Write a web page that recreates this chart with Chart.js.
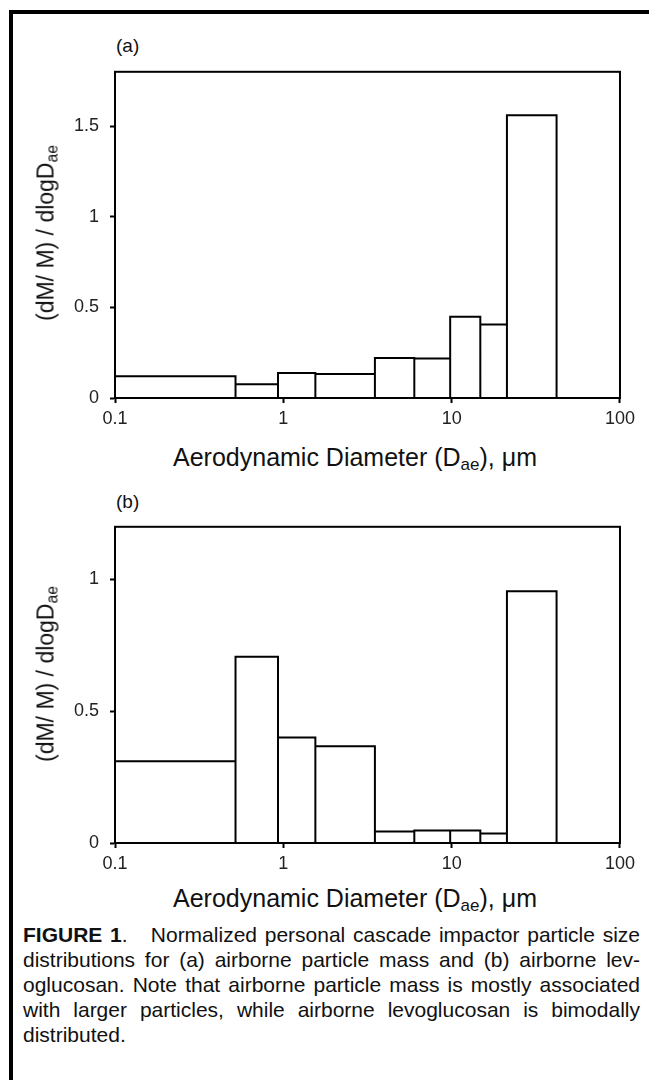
<!DOCTYPE html>
<html>
<head>
<meta charset="utf-8">
<script src="https://cdn.jsdelivr.net/npm/chart.js@4.4.0/dist/chart.umd.min.js"></script>
<style>
  body { margin: 0; background: #fff; width: 649px; height: 1080px; overflow: hidden; position: relative;
         font-family: 'Liberation Sans', Arial, sans-serif; color: #111; }
  #frame { position: absolute; left: 9px; top: 10px; width: 700px; height: 1200px;
           border-left: 4px solid #000; border-top: 4px solid #000; }
  .box { position: absolute; left: 60px; width: 580px; }
  .panel { position: absolute; font-size: 19px; }
  .xtitle { position: absolute; left: 115px; width: 480px; text-align: center; font-size: 25px; white-space: nowrap; }
  .ytitle { position: absolute; font-size: 23px; white-space: nowrap; transform: translate(-50%, -50%) rotate(-90deg); }
  sub { font-size: 68%; vertical-align: -0.25em; line-height: 0; }
  #caption { position: absolute; left: 23px; width: 617px; top: 922px; font-size: 21px; line-height: 25px; }
  #caption span { display: block; white-space: nowrap; text-align: justify; text-align-last: justify; }
  #caption span.last { text-align-last: left; }
</style>
</head>
<body>
<div id="frame"></div>

<div class="panel" style="left:116px; top:35px;">(a)</div>
<div class="box" style="top:50px; height:380px;"><canvas id="chartA"></canvas></div>
<div class="ytitle" style="left:46px; top:233px;">(dM/ M) / dlogD<sub>ae</sub></div>
<div class="xtitle" style="top:443px;">Aerodynamic Diameter (D<sub>ae</sub>), &mu;m</div>

<div class="panel" style="left:116px; top:491px;">(b)</div>
<div class="box" style="top:505px; height:370px;"><canvas id="chartB"></canvas></div>
<div class="ytitle" style="left:46px; top:674px;">(dM/ M) / dlogD<sub>ae</sub></div>
<div class="xtitle" style="top:884px;">Aerodynamic Diameter (D<sub>ae</sub>), &mu;m</div>

<div id="caption">
  <span><b>FIGURE 1</b>.&nbsp;&nbsp; Normalized personal cascade impactor particle size</span>
  <span>distributions for (a) airborne particle mass and (b) airborne lev-</span>
  <span>oglucosan. Note that airborne particle mass is mostly associated</span>
  <span>with larger particles, while airborne levoglucosan is bimodally</span>
  <span class="last">distributed.</span>
</div>

<script>
  // impactor stage boundaries (um), one more than the number of stages
  var stageEdges = [0.1, 0.52, 0.93, 1.55, 3.5, 6.0, 9.8, 14.8, 21.3, 42];
  // (a) airborne particle mass
  var massValues = [0.12, 0.076, 0.138, 0.133, 0.221, 0.218, 0.448, 0.405, 1.56];
  // (b) airborne levoglucosan
  var levoValues = [0.31, 0.707, 0.40, 0.367, 0.044, 0.047, 0.047, 0.036, 0.955];

  var xTicks = [0.1, 1, 10, 100];
  var yTicksA = [0, 0.5, 1, 1.5];
  var yTicksB = [0, 0.5, 1];

  var TICK_FONT = { family: "'Liberation Sans', Arial, sans-serif", size: 18 };

  function outline(edges, values) {
    var pts = [];
    for (var i = 0; i < values.length; i++) {
      pts.push({ x: edges[i], y: 0 });
      pts.push({ x: edges[i], y: values[i] });
      pts.push({ x: edges[i + 1], y: values[i] });
      pts.push({ x: edges[i + 1], y: 0 });
    }
    return pts;
  }

  var plotFrame = {
    id: 'plotFrame',
    afterDraw: function(chart) {
      var a = chart.chartArea, ctx = chart.ctx;
      ctx.save();
      ctx.strokeStyle = '#000';
      ctx.lineWidth = 2;
      ctx.strokeRect(a.left, a.top, a.right - a.left, a.bottom - a.top);
      ctx.restore();
    }
  };

  function makeChart(id, values, yMax, yTicks, padTop, xHeight) {
    new Chart(document.getElementById(id), {
      type: 'scatter',
      data: {
        datasets: [{
          data: outline(stageEdges, values),
          showLine: true,
          borderColor: '#000',
          borderWidth: 2,
          borderJoinStyle: 'miter',
          pointRadius: 0,
          tension: 0
        }]
      },
      options: {
        responsive: true,
        maintainAspectRatio: false,
        animation: false,
        layout: { padding: { top: padTop, right: 17, left: 0, bottom: 0 } },
        plugins: { legend: { display: false }, tooltip: { enabled: false } },
        scales: {
          x: {
            type: 'logarithmic',
            min: 0.1,
            max: 100,
            afterBuildTicks: function(s) { s.ticks = xTicks.map(function(v) { return { value: v }; }); },
            afterFit: function(s) { s.height = xHeight; },
            ticks: {
              color: '#222', font: TICK_FONT, padding: 5, maxRotation: 0,
              callback: function(v) { return String(v); }
            },
            grid: { display: true, drawOnChartArea: false, drawTicks: true, tickLength: 5, tickColor: '#000', tickWidth: 2 },
            border: { display: true, color: '#000', width: 2 }
          },
          y: {
            min: 0,
            max: yMax,
            afterBuildTicks: function(s) { s.ticks = yTicks.map(function(v) { return { value: v }; }); },
            afterFit: function(s) { s.width = 55; },
            ticks: {
              color: '#222', font: TICK_FONT, padding: 11,
              callback: function(v) { return String(v); }
            },
            grid: { display: true, drawOnChartArea: false, drawTicks: true, tickLength: 5, tickColor: '#000', tickWidth: 2 },
            border: { display: true, color: '#000', width: 2 }
          }
        }
      },
      plugins: [plotFrame]
    });
  }

  makeChart('chartA', massValues, 1.8, yTicksA, 9, 32);
  makeChart('chartB', levoValues, 1.2, yTicksB, 10, 32);
</script>
</body>
</html>
